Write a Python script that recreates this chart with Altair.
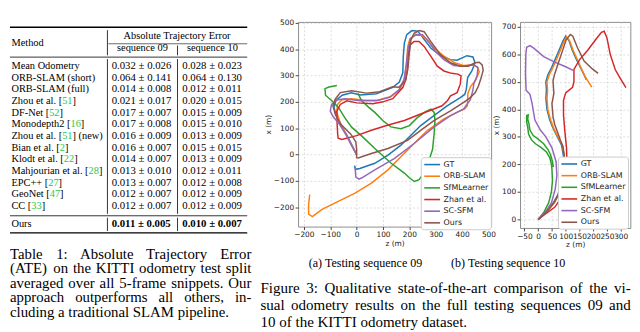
import altair as alt
import pandas as pd

# ---------------- data ----------------
METHODS = ["GT", "ORB-SLAM", "SfMLearner", "Zhan et al.", "SC-SFM", "Ours"]
COLORS = ["#1f77b4", "#ff7f0e", "#2ca02c", "#d62728", "#9467bd", "#8c564b"]

# sequence 09 trajectories, [z, x] in metres
S09_GT = [[0,0],[-15,30],[-35,70],[-58,110],[-78,150],[-86,180],[-78,205],[-55,225],[-20,234],[13,226],[75,231],[137,255],[162,275],[175,310],[177,373],[181,423],[190,455],[210,470],[232,468],[243,454],[281,404],[318,375],[356,360],[381,358],[418,375],[441,370],[449,348],[437,317],[421,292],[416,248],[410,228],[393,216],[343,185],[293,148],[243,110],[206,73],[168,36],[119,-2],[69,-33],[12,-53],[-4,-56],[-8,-42]]
S09_ORB = [[0,0],[-20,38],[-42,80],[-62,120],[-75,160],[-73,190],[-55,208],[-20,212],[30,206],[80,206],[130,220],[165,248],[182,290],[190,350],[194,410],[202,438],[220,452],[245,452],[265,438],[295,403],[333,372],[372,348],[405,338],[435,340],[458,333],[465,314],[452,283],[432,258],[422,232],[420,185],[410,173],[381,160],[331,135],[268,91],[218,42],[168,-8],[119,-58],[56,-108],[-6,-146],[-131,-208],[-168,-235],[-182,-226],[-182,-190],[-178,-152]]
S09_SFM = [[5,232],[19,204],[45,180],[69,160],[100,128],[130,105],[168,98],[200,110],[230,140],[262,163],[282,172],[294,160],[297,130],[294,79],[288,20],[281,-2],[262,-60],[237,-95],[219,-102],[200,-88],[181,-70],[131,-33],[69,23],[20,70],[-19,104],[-45,140],[-69,179],[-94,204],[-118,225],[-120,250],[-105,256],[-75,262]]
S09_ZHAN = [[-75,165],[-74,120],[-72,80],[-70,62],[-56,57],[0,72],[56,92],[120,112],[181,129],[243,154],[293,173],[324,185],[345,205],[356,223],[381,235],[393,267],[396,298],[385,305],[360,308],[331,317],[306,335],[281,373],[256,410],[237,429],[218,429],[203,416],[196,385],[194,335],[187,285],[175,254],[137,212],[100,200],[62,193],[0,196],[-37,204],[-62,190],[-75,165]]
S09_SC = [[0,0],[-18,32],[-40,75],[-65,115],[-90,145],[-100,165],[-95,190],[-75,207],[-45,212],[13,204],[75,204],[125,217],[160,245],[180,285],[188,340],[195,400],[205,440],[225,455],[250,454],[275,425],[300,390],[331,360],[368,338],[406,335],[443,341],[460,330],[457,300],[445,270],[440,240],[431,208],[406,173],[356,148],[293,104],[218,42],[144,-14],[69,-58],[20,-88],[9,-93],[-3,-85],[-6,-46]]
S09_OURS = [[-20,75],[-3,48],[0,20],[0,-12],[6,-13],[56,4],[119,23],[193,54],[243,92],[293,129],[356,166],[406,198],[431,216],[450,235],[462,260],[472,290],[480,320],[476,340],[465,350],[449,348],[424,335],[393,335],[356,348],[318,379],[281,429],[256,466],[237,470],[218,460],[206,435],[200,385],[194,323],[185,280],[160,255],[137,257],[87,238],[37,233],[-19,242],[-62,235],[-81,210],[-90,185],[-80,150],[-60,115],[-40,95],[-20,75]]

# sequence 10 trajectories, [z, x] in metres
S10_GT = [[0,0],[15,15],[35,35],[55,60],[72,90],[85,130],[90,180],[92,230],[85,270],[70,300],[55,330],[42,361],[32,400],[28,440],[30,470],[28,500],[35,525],[50,555],[72,606],[90,648],[100,666],[112,650],[124,615],[140,580],[160,540],[175,508]]
S10_ORB = [[0,0],[15,14],[36,34],[57,58],[75,90],[88,130],[93,180],[95,230],[88,270],[72,300],[57,330],[45,361],[35,400],[32,440],[34,470],[32,500],[40,525],[55,555],[77,606],[93,645],[103,664],[114,650],[128,612],[145,575],[170,520],[195,481]]
S10_SFM = [[0,0],[20,25],[38,60],[48,100],[52,140],[50,183],[48,200],[42,225],[30,245],[10,262],[-10,275],[-25,290],[-35,310],[-38,335],[-42,355],[-42,378],[-36,380],[-38,365],[-33,345],[-30,325],[-18,305],[0,292],[20,275],[35,255],[45,235],[52,210],[55,190]]
S10_ZHAN = [[0,0],[24,18],[60,44],[85,80],[100,140],[105,200],[103,260],[97,320],[92,380],[92,433],[100,460],[125,480],[130,500],[130,545],[150,580],[180,615],[210,655],[230,680],[240,684],[250,660],[262,600],[280,545],[300,510],[319,479]]
S10_SC = [[0,0],[25,25],[48,60],[62,110],[68,160],[65,210],[50,260],[28,300],[8,325],[-12,361],[-22,421],[-30,455],[-44,470],[-46,529],[-45,600],[-42,626],[-30,632],[-15,622],[20,592],[60,572],[100,555],[129,541]]
S10_OURS = [[0,0],[18,15],[40,38],[60,65],[78,100],[90,140],[95,190],[95,230],[90,265],[80,290],[72,313],[60,345],[54,373],[50,421],[57,457],[54,505],[60,529],[72,565],[84,600],[102,654],[117,672],[126,666],[143,624],[167,576],[197,547],[218,531]]

TICKS09_Z = [-200, -100, 0, 100, 200, 300, 400, 500]
TICKS09_X = [-200, -100, 0, 100, 200, 300, 400, 500]
TICKS10_Z = [-50, 0, 50, 100, 150, 200, 250, 300]
TICKS10_X = [0, 100, 200, 300, 400, 500, 600, 700]

# table
TABLE_METHODS = ["Mean Odometry", "ORB-SLAM (short)", "ORB-SLAM (full)", "Zhou et al. [51]",
                 "DF-Net [52]", "Monodepth2 [16]", "Zhou et al. [51] (new)", "Bian et al. [2]",
                 "Klodt et al. [22]", "Mahjourian et al. [28]", "EPC++ [27]", "GeoNet [47]", "CC [33]"]
ATE_09 = ["0.032 ± 0.026", "0.064 ± 0.141", "0.014 ± 0.008", "0.021 ± 0.017", "0.017 ± 0.007",
          "0.017 ± 0.008", "0.016 ± 0.009", "0.016 ± 0.007", "0.014 ± 0.007", "0.013 ± 0.010",
          "0.013 ± 0.007", "0.012 ± 0.007", "0.012 ± 0.007"]
ATE_10 = ["0.028 ± 0.023", "0.064 ± 0.130", "0.012 ± 0.011", "0.020 ± 0.015", "0.015 ± 0.009",
          "0.015 ± 0.010", "0.013 ± 0.009", "0.015 ± 0.015", "0.013 ± 0.009", "0.012 ± 0.011",
          "0.012 ± 0.008", "0.012 ± 0.009", "0.012 ± 0.009"]
OURS_ROW = ["Ours", "0.011 ± 0.005", "0.010 ± 0.007"]
HEADERS = ["Method", "Absolute Trajectory Error", "sequence 09", "sequence 10"]

TABLE_CAPTION = ["Table 1:  Absolute Trajectory Error",
                 "(ATE) on the KITTI odometry test split",
                 "averaged over all 5-frame snippets. Our",
                 "approach outperforms all others, in-",
                 "cluding a traditional SLAM pipeline."]
FIG_CAPTION = ["Figure 3: Qualitative state-of-the-art comparison of the vi-",
               "sual odometry results on the full testing sequences 09 and",
               "10 of the KITTI odometry dataset."]
SUBCAPTIONS = ["(a) Testing sequence 09", "(b) Testing sequence 10"]

# ---------------- text metrics (Times) ----------------
_W = {' ': 250, '!': 333, '(': 333, ')': 333, '+': 564, ',': 250, '-': 333, '.': 250, '/': 278,
      ':': 278, ';': 278, '[': 333, ']': 333, '±': 564,
      'A': 722, 'B': 667, 'C': 667, 'D': 722, 'E': 611, 'F': 556, 'G': 722, 'H': 722, 'I': 333,
      'J': 389, 'K': 722, 'L': 611, 'M': 889, 'N': 722, 'O': 722, 'P': 556, 'Q': 722, 'R': 667,
      'S': 556, 'T': 611, 'U': 722, 'V': 722, 'W': 944, 'X': 722, 'Y': 722, 'Z': 611,
      'a': 444, 'b': 500, 'c': 444, 'd': 500, 'e': 444, 'f': 333, 'g': 500, 'h': 500, 'i': 278,
      'j': 278, 'k': 500, 'l': 278, 'm': 778, 'n': 500, 'o': 500, 'p': 500, 'q': 500, 'r': 333,
      's': 389, 't': 278, 'u': 500, 'v': 500, 'w': 722, 'x': 500, 'y': 500, 'z': 444}


def tw(s, fs):
    return sum(_W.get(ch, 500) for ch in s) / 1000.0 * fs


texts = []   # regular serif text items in page pixel coordinates
bolds = []
rules = []


def add(t, x, y, fs, c="#000000"):
    texts.append({"x": x, "y": y, "t": t, "fs": fs, "c": c})


def add_line(line, x0, x1, y, fs, justify):
    words = [w for w in line.split(" ") if w]
    if not justify or len(words) < 2:
        add(line, x0, y, fs)
        return
    nat = sum(tw(w, fs) for w in words)
    gap = (x1 - x0 - nat) / (len(words) - 1)
    x = x0
    for w in words:
        add(w, x, y, fs)
        x += tw(w, fs) + gap


GREEN = "#27c93f"


def add_method(name, x, y, fs):
    if "[" in name:
        pre, rest = name.split("[", 1)
        num, post = rest.split("]", 1)
        add(pre + "[", x, y, fs)
        x += tw(pre + "[", fs)
        add(num, x, y, fs, GREEN)
        x += tw(num, fs)
        add("]" + post, x, y, fs)
    else:
        add(name, x, y, fs)


# ---- table layout (page pixels) ----
TFS = 10.5
VFS = 10.9
C1, C2, C3 = 9.5, 111.0, 182.5
VL1, VL2 = 106.7, 177.7
TL, TR = 8.0, 248.3
ROW0, PITCH = 63.3, 11.83

add(HEADERS[0], C1, 40.0, TFS)
add(HEADERS[1], (VL1 + TR) / 2 - tw(HEADERS[1], TFS) / 2, 33.0, TFS)
add(HEADERS[2], (VL1 + VL2) / 2 - tw(HEADERS[2], TFS) / 2, 45.5, TFS)
add(HEADERS[3], (VL2 + TR) / 2 - tw(HEADERS[3], TFS) / 2, 45.5, TFS)
for i, (m, a, b) in enumerate(zip(TABLE_METHODS, ATE_09, ATE_10)):
    y = ROW0 + i * PITCH
    add_method(m, C1, y, TFS)
    add(a, C2, y, VFS)
    add(b, C3, y, VFS)
add(OURS_ROW[0], C1, 223.3, TFS)
bolds.append({"x": C2, "y": 223.3, "t": OURS_ROW[1], "fs": VFS})
bolds.append({"x": C3, "y": 223.3, "t": OURS_ROW[2], "fs": VFS})

rules += [
    {"x": TL, "x2": TR, "y": 24.0, "y2": 24.0, "w": 1.4},
    {"x": VL1 + 1, "x2": TR, "y": 40.8, "y2": 40.8, "w": 0.6},
    {"x": TL, "x2": TR, "y": 54.3, "y2": 54.3, "w": 0.8},
    {"x": TL, "x2": TR, "y": 215.0, "y2": 215.0, "w": 0.8},
    {"x": TL, "x2": TR, "y": 232.3, "y2": 232.3, "w": 1.4},
    {"x": VL1, "x2": VL1, "y": 27.0, "y2": 52.5, "w": 0.8},
    {"x": VL1, "x2": VL1, "y": 56.3, "y2": 213.0, "w": 0.8},
    {"x": VL1, "x2": VL1, "y": 217.0, "y2": 230.5, "w": 0.8},
    {"x": VL2, "x2": VL2, "y": 42.6, "y2": 52.5, "w": 0.8},
    {"x": VL2, "x2": VL2, "y": 56.3, "y2": 213.0, "w": 0.8},
    {"x": VL2, "x2": VL2, "y": 217.0, "y2": 230.5, "w": 0.8},
]

# ---- captions ----
CAP_FS = 15.0
for i, line in enumerate(TABLE_CAPTION):
    add_line(line, 8.0, 252.5, 253.5 + i * 14.75, CAP_FS, i < len(TABLE_CAPTION) - 1)
FIG_FS = 15.2
for i, line in enumerate(FIG_CAPTION):
    add_line(line, 261.7, 636.7, 288.5 + i * 17.1, FIG_FS, i < len(FIG_CAPTION) - 1)
SUB_FS = 12.2
for cx, s in zip([368.7, 513.2], SUBCAPTIONS):
    add(s, cx - tw(s, SUB_FS) / 2, 262.5, SUB_FS)

TOP = 18.65  # page y of the plot frames
PX = alt.Scale(domain=[8, 648], range=[0, 640])
PY = alt.Scale(domain=[TOP, TOP + 332], range=[0, 332])

anchor = alt.Chart(pd.DataFrame({"x": [8.0], "x2": [8.0], "y": [8.0], "y2": [9.0]})).mark_rule(
    opacity=0).encode(x=alt.X("x:Q", scale=PX, axis=None), x2="x2:Q",
                      y=alt.Y("y:Q", scale=PY, axis=None), y2="y2:Q")
rule_layer = alt.Chart(pd.DataFrame(rules)).mark_rule(color="black").encode(
    x=alt.X("x:Q", scale=PX, axis=None), x2="x2:Q",
    y=alt.Y("y:Q", scale=PY, axis=None), y2="y2:Q",
    strokeWidth=alt.StrokeWidth("w:Q", scale=None))
text_layer = alt.Chart(pd.DataFrame(texts)).mark_text(
    align="left", baseline="middle", font="Liberation Serif").encode(
    x=alt.X("x:Q", scale=PX, axis=None), y=alt.Y("y:Q", scale=PY, axis=None),
    text="t:N", size=alt.Size("fs:Q", scale=None), color=alt.Color("c:N", scale=None))
bold_layer = alt.Chart(pd.DataFrame(bolds)).mark_text(
    align="left", baseline="middle", font="Liberation Serif", fontWeight="bold").encode(
    x=alt.X("x:Q", scale=PX, axis=None), y=alt.Y("y:Q", scale=PY, axis=None),
    text="t:N", size=alt.Size("fs:Q", scale=None), color=alt.value("black"))

W1, SP = 262.2, 28.8
panel = alt.layer(anchor, rule_layer, text_layer, bold_layer).properties(
    width=W1, height=313, view=alt.ViewBackground(stroke="transparent"))


def traj_df(series):
    rows = []
    for name, pts in zip(METHODS, series):
        for i, (z, x) in enumerate(pts):
            rows.append({"method": name, "i": i, "z": z, "x": x})
    return pd.DataFrame(rows)


def axis(vals, title):
    return alt.Axis(values=vals, title=title, labelFont="DejaVu Sans", labelFontSize=7.5,
                    titleFont="DejaVu Sans", titleFontSize=7.5, titleFontWeight="normal",
                    labelColor="#1a1a1a", titleColor="#1a1a1a", tickColor="#444444",
                    tickSize=3, labelPadding=1.5, titlePadding=1, domain=False,
                    gridColor="#d4d4d4", gridDash=[2, 2], gridWidth=0.8,
                    labelOverlap=False, labelFlush=False, format="d")


def legend(lx, ly):
    # custom short horizontal stroke: spans 16px when size=64 (scale = sqrt(size)/2)
    return alt.Legend(title=None, orient="none", legendX=lx, legendY=ly,
                      symbolType="M-1,0L3,0", symbolStrokeWidth=1.6, symbolSize=64,
                      symbolFillColor="transparent",
                      labelFont="DejaVu Sans", labelFontSize=8, labelColor="#1a1a1a",
                      fillColor="white", strokeColor="#cccccc", padding=2.5, cornerRadius=3,
                      rowPadding=2.8, labelOffset=10.6, labelLimit=120)


def traj_chart(series, zdom, xdom, zt, xt, w, h, lx, ly):
    base = alt.Chart(traj_df(series)).mark_line(strokeWidth=1.5, clip=True).encode(
        x=alt.X("z:Q", scale=alt.Scale(domain=zdom, nice=False, zero=False), axis=axis(zt, "z (m)")),
        y=alt.Y("x:Q", scale=alt.Scale(domain=xdom, nice=False, zero=False), axis=axis(xt, "x (m)")),
        color=alt.Color("method:N", scale=alt.Scale(domain=METHODS, range=COLORS),
                        sort=METHODS, legend=legend(lx, ly)),
        order=alt.Order("i:Q"),
    )
    # one layer per method so that later methods are drawn on top (GT first, Ours last)
    layers = [base.transform_filter(alt.datum.method == m) for m in METHODS]
    return alt.layer(*layers).properties(
        width=w, height=h, view=alt.ViewBackground(stroke="#8c8c8c", strokeWidth=1))


plot_a = traj_chart([S09_GT, S09_ORB, S09_SFM, S09_ZHAN, S09_SC, S09_OURS],
                    [-222, 510], [-273, 503], TICKS09_Z, TICKS09_X, 195.5, 207.3, 124.3, 137.0)
plot_b = traj_chart([S10_GT, S10_ORB, S10_SFM, S10_ZHAN, S10_SC, S10_OURS],
                    [-66, 335], [-31, 718], TICKS10_Z, TICKS10_X, 111.7, 208.7, 38.4, 136.4)

chart = alt.hconcat(panel, plot_a, plot_b, spacing=SP, bounds="flush").resolve_scale(
    color="independent").resolve_legend(color="independent").properties(
    padding=0, background="white").configure_view(stroke="transparent")

chart.save("out.html", embed_options={"renderer": "svg", "actions": False})
